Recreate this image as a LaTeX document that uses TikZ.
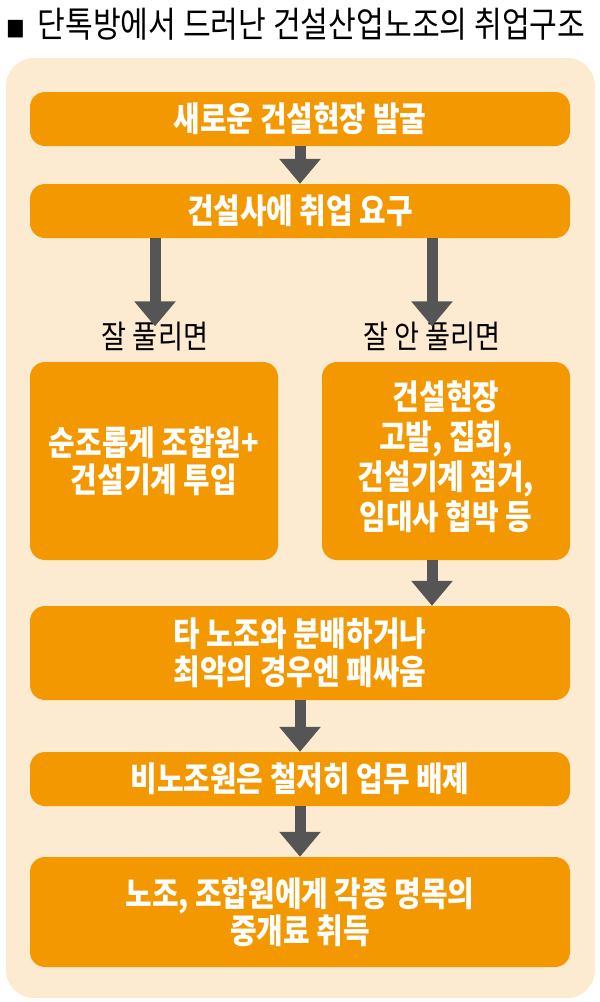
\documentclass[tikz,border=0pt]{standalone}
\usepackage{fontspec}
\newfontfamily\kr[FakeStretch=0.85]{Noto Sans CJK KR}
\usetikzlibrary{arrows.meta}
\definecolor{org}{HTML}{F39800}
\definecolor{peach}{HTML}{FDEBD1}
\definecolor{arrg}{HTML}{555555}
\tikzset{
  box/.style={fill=org, rounded corners=15pt, text=white, align=center, inner sep=0pt,
    font=\kr\bfseries\fontsize{34}{37.5}\selectfont},
  wide/.style={box, minimum width=540pt},
  half/.style={box, minimum width=248pt, minimum height=198pt},
  lbl/.style={font=\kr\fontsize{32}{34}\selectfont, text=black, inner sep=0pt},
  arr/.style={draw=arrg, line width=11pt, -{Triangle[width=40pt,length=25pt]}, fill=arrg},
}
\begin{document}
\begin{tikzpicture}[x=1pt,y=-1pt]
\useasboundingbox (0,0) rectangle (600,1002);
\node[anchor=west, inner sep=0pt, font=\kr\fontsize{35.5}{36}\selectfont] (title) at (6,24) {{\fontsize{22}{22}\selectfont ■}\hspace{6pt} 단톡방에서 드러난 건설산업노조의 취업구조};
\fill[peach, rounded corners=28pt] (6,58) rectangle (595,998);
\node[wide, minimum height=54pt] (b1) at (300,119) {새로운 건설현장 발굴};
\node[wide, minimum height=54pt] (b2) at (300,211) {건설사에 취업 요구};
\node[lbl] (l1) at (155,337) {잘 풀리면};
\node[lbl] (l2) at (432,337) {잘 안 풀리면};
\node[half] (b3l) at (154,461) {순조롭게 조합원+\\건설기계 투입};
\node[half] (b3r) at (446,461) {\raisebox{-4pt}{\begin{tabular}{@{}c@{}}건설현장\\고발, 집회,\\건설기계 점거,\\임대사 협박 등\end{tabular}}};
\node[wide, minimum height=94pt] (b4) at (300,653) {타 노조와 분배하거나\\최악의 경우엔 패싸움};
\node[wide, minimum height=54pt] (b5) at (300,779) {비노조원은 철저히 업무 배제};
\node[wide, minimum height=110pt] (b6) at (300,912) {노조, 조합원에게 각종 명목의\\중개료 취득};
\coordinate (a1s) at (b2.south -| l1);
\coordinate (a1e) at ([yshift=-4pt]l1.north);
\coordinate (a2s) at (b2.south -| l2);
\coordinate (a2e) at ([yshift=-4pt]l2.north);
\coordinate (a3s) at (b3r.south -| l2);
\coordinate (a3e) at (b4.north -| l2);
\draw[arr] (b1.south) -- (b2.north);
\draw[arr] (a1s) -- (a1e);
\draw[arr] (a2s) -- (a2e);
\draw[arr] (a3s) -- (a3e);
\draw[arr] (b4.south) -- (b5.north);
\draw[arr] (b5.south) -- (b6.north);
\end{tikzpicture}
\end{document}
